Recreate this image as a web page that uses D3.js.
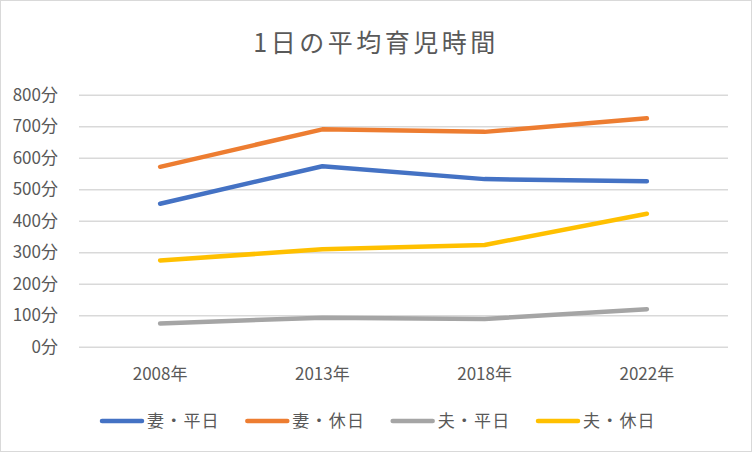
<!DOCTYPE html>
<html><head><meta charset="utf-8">
<script src="https://cdn.jsdelivr.net/npm/d3@7"></script>
<style>html,body{margin:0;padding:0;background:#fff;}svg{display:block;}</style>
</head><body>
<svg id="c" width="752" height="452"></svg>
<script>
const title = "1日の平均育児時間";
const categories = ["2008年", "2013年", "2018年", "2022年"];
const seriesNames = ["妻・平日", "妻・休日", "夫・平日", "夫・休日"];
const seriesColors = ["#4472C4", "#ED7D31", "#A5A5A5", "#FFC000"];
const wifeWeekday = [454, 573, 532, 525];
const wifeHoliday = [571, 690, 682, 725];
const husbandWeekday = [74, 92, 88, 119];
const husbandHoliday = [274, 309, 323, 422];
const yTicks = [0, 100, 200, 300, 400, 500, 600, 700, 800];
const seriesValues = [wifeWeekday, wifeHoliday, husbandWeekday, husbandHoliday];

(function(){
const svg = d3.select("#c");
const font = "'Noto Sans CJK JP', 'Noto Sans', sans-serif";
const textColor = "#595959";

svg.append("rect").attr("x",0.5).attr("y",0.5).attr("width",751).attr("height",451)
  .attr("fill","#fff").attr("stroke","#d9d9d9");

const pLeft = 79, pRight = 728, pTop = 94.7, pBottom = 346.7;
const x = d3.scaleBand().domain(categories).range([pLeft, pRight]);
const y = d3.scaleLinear().domain([0, 800]).range([pBottom, pTop]);

svg.append("text").attr("x", 376).attr("y", 52).attr("text-anchor","middle")
  .attr("font-family", font).attr("font-size", 25).attr("letter-spacing", 3.5)
  .attr("fill", textColor).text(title);

const yAxis = d3.axisLeft(y).tickValues(yTicks).tickSize(-(pRight-pLeft)).tickFormat(d => d + "分").tickPadding(21);
const gy = svg.append("g").attr("transform", `translate(${pLeft},0)`).call(yAxis);
gy.select(".domain").remove();
gy.selectAll(".tick line").attr("stroke", "#d9d9d9").attr("stroke-width", 1.5);
gy.selectAll(".tick text").attr("font-family", font).attr("font-size", 17).attr("fill", textColor);

const xAxis = d3.axisBottom(x).tickSize(0).tickPadding(21);
const gx = svg.append("g").attr("transform", `translate(0,${pBottom})`).call(xAxis);
gx.select(".domain").remove();
gx.selectAll(".tick text").attr("font-family", font).attr("font-size", 17).attr("fill", textColor);

const line = d3.line().x((d,i) => x(categories[i]) + x.bandwidth()/2).y(d => y(d));
seriesValues.forEach((vals, k) => {
  svg.append("path").datum(vals).attr("d", line).attr("fill","none")
    .attr("stroke", seriesColors[k]).attr("stroke-width", 4.5)
    .attr("stroke-linecap","round").attr("stroke-linejoin","round");
});

const legendX = d3.scalePoint().domain(seriesNames).range([102, 538]);
const lg = svg.append("g");
seriesNames.forEach((n, k) => {
  const lx = legendX(n);
  lg.append("line").attr("x1", lx).attr("x2", lx + 40).attr("y1", 421).attr("y2", 421)
    .attr("stroke", seriesColors[k]).attr("stroke-width", 4.5).attr("stroke-linecap","round");
  lg.append("text").attr("x", lx + 45).attr("y", 421).attr("dy","0.36em")
    .attr("font-family", font).attr("font-size", 17).attr("letter-spacing", 1.2)
    .attr("fill", textColor).text(n);
});
})();
</script>
</body></html>
